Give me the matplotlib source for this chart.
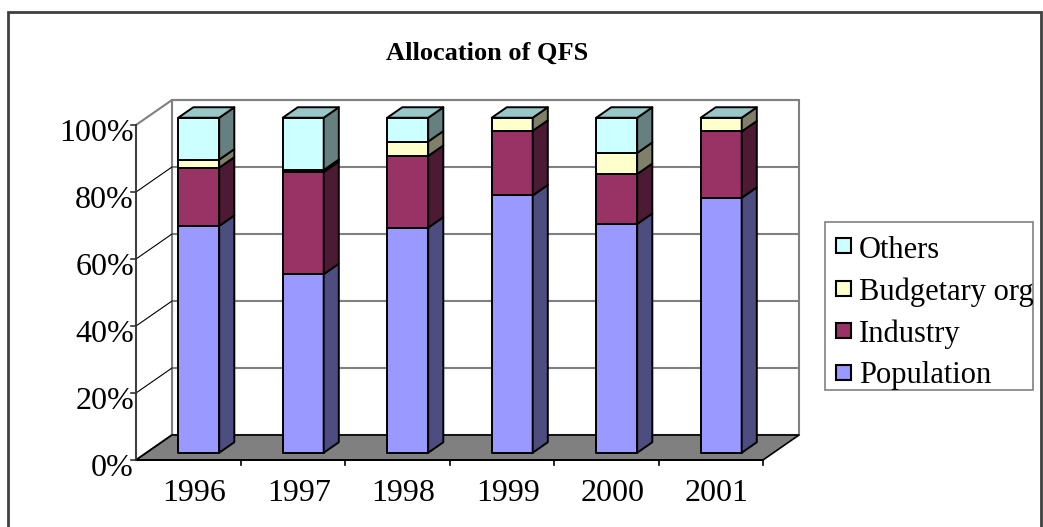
import matplotlib
matplotlib.use("Agg")
import matplotlib.pyplot as plt
from matplotlib.patches import Polygon, Rectangle

plt.rcParams['font.family'] = ['Liberation Serif', 'DejaVu Serif']

years = ['1996', '1997', '1998', '1999', '2000', '2001']
population = [67.7, 53.3, 67.2, 76.8, 68.3, 76.1]
industry = [17.4, 30.5, 21.4, 19.3, 14.9, 19.8]
budgetary = [2.4, 0.6, 4.3, 3.9, 6.3, 4.1]
others = [12.5, 15.6, 7.1, 0.0, 10.5, 0.0]

series_names = ['Population', 'Industry', 'Budgetary org', 'Others']
series_vals = [population, industry, budgetary, others]
front_cols = ['#9999FF', '#993366', '#FFFFCC', '#CCFFFF']
side_cols = ['#4D4D80', '#4D1A33', '#80806A', '#668080']
top_col = '#99C7C7'

W, H = 1043, 527
fig = plt.figure(figsize=(W / 100, H / 100), dpi=100)
ax = fig.add_axes([0, 0, 1, 1])

# scales: one category = 104.5 px, 1 % = 3.35 px, front axis origin at (136, 460)
cx, cy = 104.5, 3.35
ax.set_xlim(-136 / cx, (W - 136) / cx)
ax.set_ylim(-(H - 460) / cy, 460 / cy)
ax.axis('off')

DX, DY = 36 / cx, 25 / cy   # depth offsets
n = len(years)


def proj(x, y, d):
    return (x + d * DX, y + d * DY)


def face(pts, fc, ec='black', lw=1.4, z=2):
    ax.add_patch(Polygon([proj(*p) for p in pts], closed=True, facecolor=fc,
                         edgecolor=ec, linewidth=lw, zorder=z, joinstyle='round'))


grey = '#808080'
# walls and floor
face([(0, 0, 1), (n, 0, 1), (n, 100, 1), (0, 100, 1)], 'white', grey, 1.5, 0)
face([(0, 0, 0), (0, 0, 1), (0, 100, 1), (0, 100, 0)], 'white', grey, 1.5, 0)
face([(0, 0, 0), (n, 0, 0), (n, 0, 1), (0, 0, 1)], grey, 'black', 1.2, 1)

ticks = [0, 20, 40, 60, 80, 100]
for v in ticks[1:]:
    xs, ys = zip(proj(0, v, 1), proj(n, v, 1))
    ax.plot(xs, ys, color=grey, lw=1.5, zorder=0.5)
for v in ticks[:-1]:
    xs, ys = zip(proj(0, v, 0), proj(0, v, 1))
    ax.plot(xs, ys, color='black', lw=0.8, zorder=1.5)

# front axes
ax.plot([0, 0], [0, 100], color='#333333', lw=1.2, zorder=3)
ax.plot([0, n], [0, 0], color='black', lw=1.4, zorder=3)
for v in ticks:
    ax.plot([-5 / cx, 0], [v, v], color='#333333', lw=1.2, zorder=3)
    ax.text(-2 / cx, v - 2.4, f'{v}%', ha='right', va='center', fontsize=23)
for i in range(1, n + 1):
    ax.plot([i, i], [0, -5 / cy], color='black', lw=1.2, zorder=3)
for i, yr in enumerate(years):
    ax.text(i + 0.56, -10.0, yr, ha='center', va='center', fontsize=23)

# bars
bw = 41 / cx
d0, d1 = 0.29, 0.71
for i in range(n):
    xl, xr = i + 0.5 - bw / 2, i + 0.5 + bw / 2
    base = 0
    for k, vals in enumerate(series_vals):
        v = vals[i]
        if v <= 0:
            continue
        t = base + v
        face([(xl, base, d0), (xr, base, d0), (xr, t, d0), (xl, t, d0)], front_cols[k], z=4)
        face([(xr, base, d0), (xr, base, d1), (xr, t, d1), (xr, t, d0)], side_cols[k], z=4)
        base = t
    face([(xl, base, d0), (xr, base, d0), (xr, base, d1), (xl, base, d1)], top_col, z=4)


def px(x, y):
    return (x / W, 1 - y / H)


# title
fig.text(*px(487, 53), 'Allocation of QFS', ha='center', va='center',
         fontsize=19, fontweight='bold')

# legend
lx0, ly0, lx1, ly1 = 825, 222, 1033, 390
fig.patches.append(Rectangle(px(lx0, ly1), (lx1 - lx0) / W, (ly1 - ly0) / H,
                             transform=fig.transFigure, facecolor='none',
                             edgecolor=grey, lw=1.2))
for j, k in enumerate([3, 2, 1, 0]):
    yc = 250 + 42 * j
    fig.patches.append(Rectangle(px(836, yc - 4 + 7.5), 15 / W, 15 / H,
                                 transform=fig.transFigure, facecolor=front_cols[k],
                                 edgecolor='black', lw=1.5))
    fig.text(*px(859, yc), series_names[k], ha='left', va='center', fontsize=22)

# outer border
fig.patches.append(Rectangle(px(8, 560), (1041 - 8) / W, (560 - 12) / H,
                             transform=fig.transFigure, facecolor='none',
                             edgecolor='#404040', lw=2))

fig.savefig('out.png', dpi=100)
